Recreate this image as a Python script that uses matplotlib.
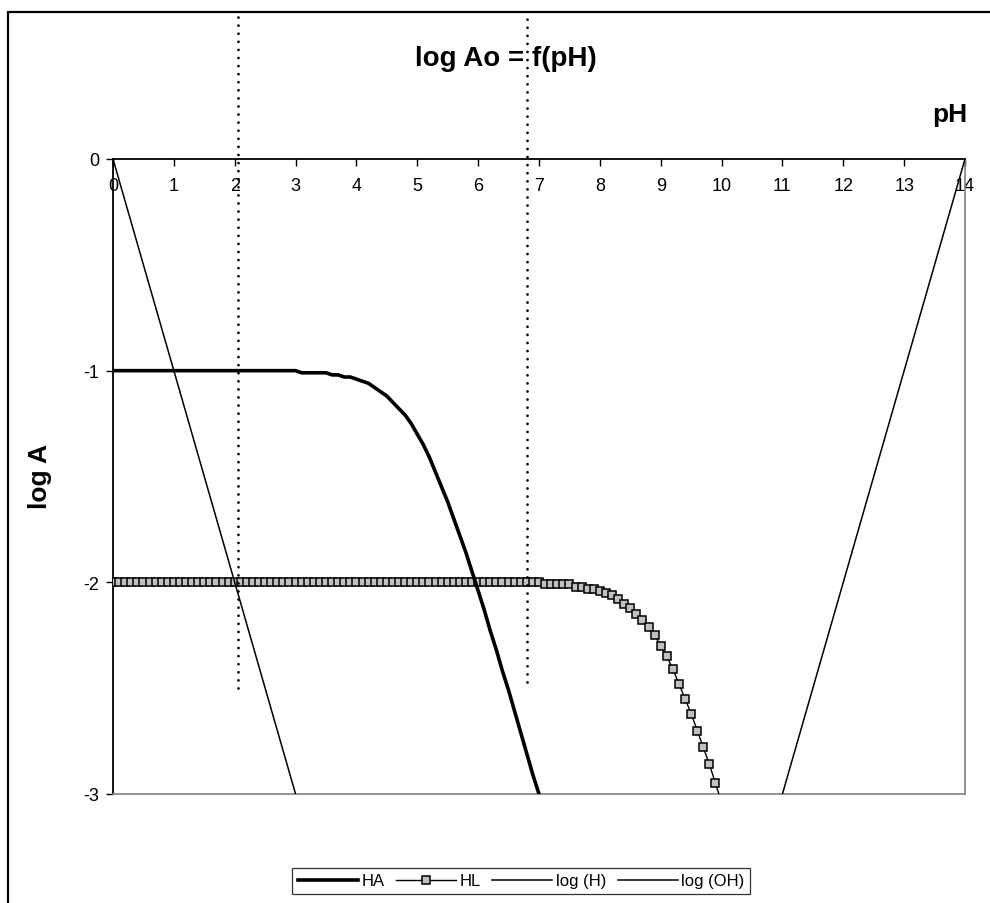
import matplotlib
matplotlib.use("Agg")
import matplotlib.pyplot as plt
from matplotlib.lines import Line2D
from matplotlib.patches import Rectangle

plt.rcParams['font.family'] = ['Liberation Sans', 'DejaVu Sans']
plt.rcParams['axes.unicode_minus'] = False

# ---- data ----
ph_ha = [round(0.1 * i, 1) for i in range(71)]
ha = [-1.00] * 31 + [
    -1.01, -1.01, -1.01, -1.01, -1.01, -1.02, -1.02, -1.03, -1.03,   # 3.1-3.9
    -1.04, -1.05, -1.06, -1.08, -1.10, -1.12, -1.15, -1.18, -1.21, -1.25,  # 4.0-4.9
    -1.30, -1.35, -1.41, -1.48, -1.55, -1.62, -1.70, -1.78, -1.86, -1.95,  # 5.0-5.9
    -2.04, -2.13, -2.23, -2.32, -2.42, -2.51, -2.61, -2.71, -2.81, -2.91,  # 6.0-6.9
    -3.00]                                                                  # 7.0

ph_hl = [round(0.1 * i, 1) for i in range(101)]
hl = [-2.00] * 71 + [
    -2.01, -2.01, -2.01, -2.01, -2.01, -2.02, -2.02, -2.03, -2.03,    # 7.1-7.9
    -2.04, -2.05, -2.06, -2.08, -2.10, -2.12, -2.15, -2.18, -2.21, -2.25,  # 8.0-8.9
    -2.30, -2.35, -2.41, -2.48, -2.55, -2.62, -2.70, -2.78, -2.86, -2.95,  # 9.0-9.9
    -3.04]                                                                  # 10.0

ph_h = [0, 1, 2, 3]
log_h = [0, -1, -2, -3]

ph_oh = [11, 12, 13, 14]
log_oh = [-3, -2, -1, 0]

# vertical dotted guide lines (pH position, lower end)
guide_ph = [2.05, 6.80]
guide_low = [-2.50, -2.47]
guide_top = 0.685

x_ticks = list(range(0, 15))
y_ticks = [0, -1, -2, -3]

# ---- figure ----
W, H = 990, 904
fig = plt.figure(figsize=(W / 100, H / 100), dpi=100)
fig.patch.set_facecolor('white')

# outer chart border
fig.patches.append(Rectangle((8 / W, -0.1), 1.2, 1.1 - 13 / H, transform=fig.transFigure,
                             fill=False, edgecolor='black', linewidth=1.6, clip_on=False))

ax = fig.add_axes([113 / W, 109 / H, 852 / W, 635 / H])
ax.set_xlim(0, 14)
ax.set_ylim(-3, 0)

ax.plot(ph_ha, ha, color='black', lw=2.6, label='HA', zorder=4)
ax.plot(ph_hl, hl, color='black', lw=1.0, marker='s', markersize=6.2,
        markerfacecolor='#c0c0c0', markeredgecolor='black', markeredgewidth=1.1,
        label='HL', zorder=3)
ax.plot(ph_h, log_h, color='black', lw=1.1, label='log (H)', zorder=3)
ax.plot(ph_oh, log_oh, color='black', lw=1.1, label='log (OH)', zorder=3)

for gx, gl in zip(guide_ph, guide_low):
    ax.plot([gx, gx], [gl, guide_top], color='black', lw=2.0, dashes=(0.01, 2.9),
            dash_capstyle='round', clip_on=False, zorder=5)

# spines
ax.spines['left'].set_color('black')
ax.spines['left'].set_linewidth(1.3)
ax.spines['top'].set_color('black')
ax.spines['top'].set_linewidth(1.3)
ax.spines['right'].set_color('#808080')
ax.spines['bottom'].set_color('#808080')
ax.spines['right'].set_linewidth(1.2)
ax.spines['bottom'].set_linewidth(1.2)

ax.set_xticks(x_ticks)
ax.set_xticklabels([str(v) for v in x_ticks])
ax.set_yticks(y_ticks)
ax.set_yticklabels([str(v) for v in y_ticks])
ax.tick_params(axis='x', top=True, bottom=False, labeltop=True, labelbottom=False,
               direction='in', length=5, width=1.0, pad=-25, labelsize=13)
ax.tick_params(axis='y', left=True, right=False, direction='out', length=5, width=1.0,
               pad=5, labelsize=13)

fig.text(506 / W, 1 - 59 / H, 'log Ao = f(pH)', ha='center', va='center',
         fontsize=20, fontweight='bold')
fig.text(950 / W, 1 - 115 / H, 'pH', ha='center', va='center', fontsize=19, fontweight='bold')
fig.text(40 / W, 1 - 477 / H, 'log A', ha='center', va='center', rotation=90,
         fontsize=19, fontweight='bold')

handles = [
    Line2D([], [], color='black', lw=2.6),
    Line2D([], [], color='black', lw=1.0, marker='s', markersize=6.2,
           markerfacecolor='#c0c0c0', markeredgecolor='black', markeredgewidth=1.1),
    Line2D([], [], color='black', lw=1.1),
    Line2D([], [], color='black', lw=1.1),
]
leg = fig.legend(handles, ['HA', 'HL', 'log (H)', 'log (OH)'], loc='center',
                 bbox_to_anchor=(521 / W, 1 - 882 / H), ncol=4, fontsize=12,
                 frameon=True, fancybox=False, edgecolor='black', handlelength=3.6,
                 handletextpad=0.2, columnspacing=0.7, borderpad=0.35)
leg.get_frame().set_linewidth(0.9)

fig.savefig('out.png', dpi=100, facecolor='white')
